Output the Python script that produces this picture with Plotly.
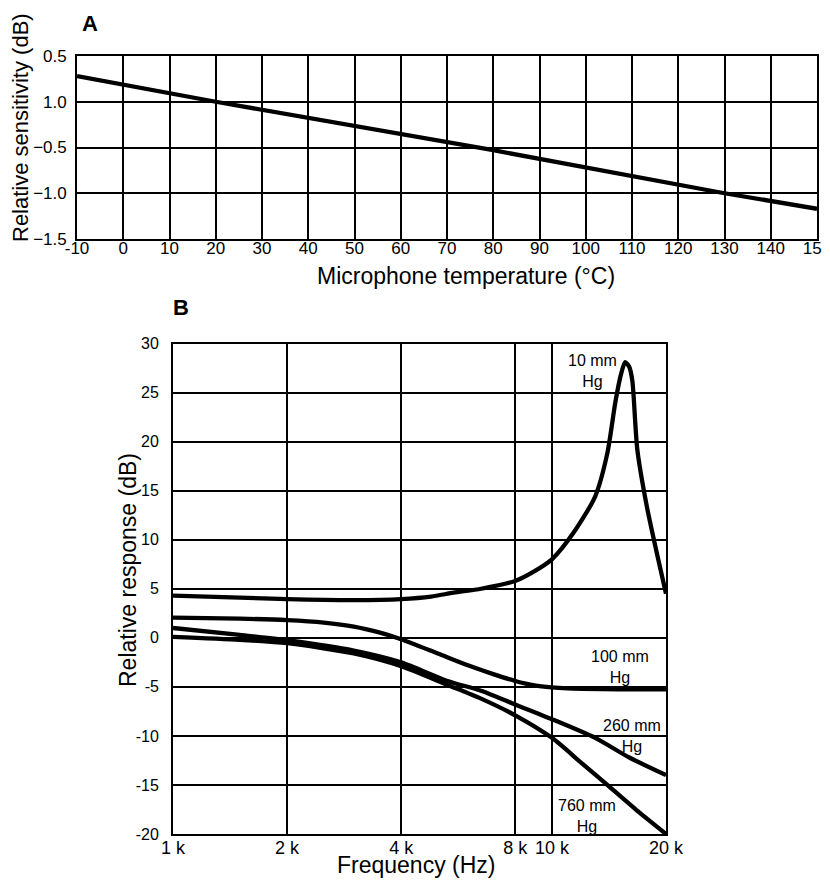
import plotly.graph_objects as go

# page body has an 8px margin: the figure is drawn from (8, 8) in the window
OFF = 8
W, H = 830 - OFF, 881 - OFF
FONT = "Liberation Sans, Arial, sans-serif"

# ---------- Panel A data ----------
temp_c = [-10, 20, 80, 130, 150]
sensitivity_db = [0.28, 0.0, -0.53, -1.0, -1.17]
a_xticks = [-10, 0, 10, 20, 30, 40, 50, 60, 70, 80, 90, 100, 110, 120, 130, 140, 150]
a_xtext = ["-10", "0", "10", "20", "30", "40", "50", "60", "70", "80", "90", "100",
           "110", "120", "130", "140", "150"]
a_yticks = [-1.5, -1.0, -0.5, 0.0, 0.5]
a_ytext = ["\u22121.5", "\u22121.0", "\u22120.5", "1.0", "0.5"]

# ---------- Panel B data (frequency in kHz) ----------
f_10 = [1, 1.5, 2, 3, 4, 4.8, 5.5, 6.5, 8, 9, 10, 11.4, 13, 14, 14.7, 15.2, 15.6, 16.0, 16.3, 16.8, 17.8, 18.9, 20]
r_10 = [4.3, 4.1, 3.95, 3.85, 3.95, 4.2, 4.6, 5.0, 5.8, 6.8, 8.0, 10.7, 14.4, 18.8, 24.0, 26.8, 28.1, 27.6, 26.2, 19.2, 13.4, 8.7, 4.5]
f_100 = [1, 1.5, 2, 2.5, 3, 3.5, 4, 5, 6, 7, 8, 9, 10, 11, 12, 15, 20]
r_100 = [2.05, 1.95, 1.8, 1.55, 1.15, 0.55, -0.15, -1.6, -2.8, -3.7, -4.4, -4.85, -5.05, -5.15, -5.2, -5.25, -5.25]
f_260 = [1, 1.5, 2, 3, 4, 5.3, 6.5, 8, 10, 13, 16, 20]
r_260 = [1.0, 0.3, -0.25, -1.3, -2.5, -4.4, -5.4, -6.8, -8.3, -10.2, -12.2, -14.0]
f_760 = [1, 1.5, 2, 3, 4, 5.3, 6.5, 8, 10, 12, 14, 17, 20]
r_760 = [0.1, -0.2, -0.55, -1.6, -2.9, -4.8, -6.2, -7.9, -10.2, -12.8, -15.0, -17.8, -20.0]
b_xticks = [1, 2, 4, 8, 10, 20]
b_xtext = ["1 k", "2 k", "4 k", "8 k", "10 k", "20 k"]
b_yticks = [-20, -15, -10, -5, 0, 5, 10, 15, 20, 25, 30]
b_ytext = ["-20", "-15", "-10", "-5", "0", "5", "10", "15", "20", "25", "30"]


def px(x):
    return (x - OFF) / W


def py(y):
    return 1 - (y - OFF) / H


fig = go.Figure()
LW = 4.3
fig.add_trace(go.Scatter(x=temp_c, y=sensitivity_db, mode="lines",
                         line=dict(color="black", width=LW), xaxis="x", yaxis="y"))
for f, r in [(f_10, r_10), (f_100, r_100), (f_260, r_260), (f_760, r_760)]:
    fig.add_trace(go.Scatter(x=f, y=r, mode="lines",
                             line=dict(color="black", width=LW, shape="spline", smoothing=0.7),
                             xaxis="x2", yaxis="y2"))

grid = dict(showgrid=True, gridcolor="black", gridwidth=1.6, showline=True, linecolor="black",
            linewidth=1.8, mirror=True, ticks="", zeroline=False, automargin=False,
            ticklabeloverflow="allow")

fig.update_layout(
    template="none",
    width=W, height=H, margin=dict(l=0, r=0, t=0, b=0, pad=0, autoexpand=False),
    paper_bgcolor="white", plot_bgcolor="white", showlegend=False,
    font=dict(family=FONT, color="black"),
    xaxis=dict(domain=[px(77), px(817)], range=[-10, 150], tickvals=a_xticks, ticktext=a_xtext,
               tickfont=dict(size=17), anchor="y", ticklabelstandoff=-7, **grid),
    yaxis=dict(domain=[py(239), py(56)], range=[-1.5, 0.5], tickvals=a_yticks, ticktext=a_ytext,
               tickfont=dict(size=17), anchor="x", ticklabelstandoff=5, **grid),
    xaxis2=dict(domain=[px(173), px(666)], type="log", range=[0, 1.30103], tickvals=b_xticks,
                ticktext=b_xtext, tickfont=dict(size=18), anchor="y2", ticklabelstandoff=-4, **grid),
    yaxis2=dict(domain=[py(834), py(343.5)], range=[-20, 30], tickvals=b_yticks, ticktext=b_ytext,
                tickfont=dict(size=16), anchor="x2", ticklabelstandoff=9, **grid),
)

ann = []


def text(x, y, s, size, bold=False, angle=0):
    ann.append(dict(x=px(x), y=py(y), xref="paper", yref="paper", text=("<b>%s</b>" % s) if bold else s,
                    showarrow=False, textangle=angle, xanchor="center", yanchor="middle",
                    font=dict(size=size, family=FONT, color="black")))


text(90, 23, "A", 22, bold=True)
text(181, 307, "B", 22, bold=True)
text(21, 128, "Relative sensitivity (dB)", 22, angle=-90)
text(466, 276, "Microphone temperature (\u00b0C)", 23)
text(128, 570, "Relative response (dB)", 23, angle=-90)
text(416, 865, "Frequency (Hz)", 23)
for (cx, cy, s) in [(592, 371, "10 mm<br>Hg"), (620, 667, "100 mm<br>Hg"),
                    (632, 736, "260 mm<br>Hg"), (587, 816, "760 mm<br>Hg")]:
    ann.append(dict(x=px(cx), y=py(cy), xref="paper", yref="paper", text=s, showarrow=False,
                    xanchor="center", yanchor="middle", align="center",
                    font=dict(size=16, family=FONT, color="black"), bgcolor="rgba(0,0,0,0)"))
fig.update_layout(annotations=ann)

fig.write_html("out.html")
